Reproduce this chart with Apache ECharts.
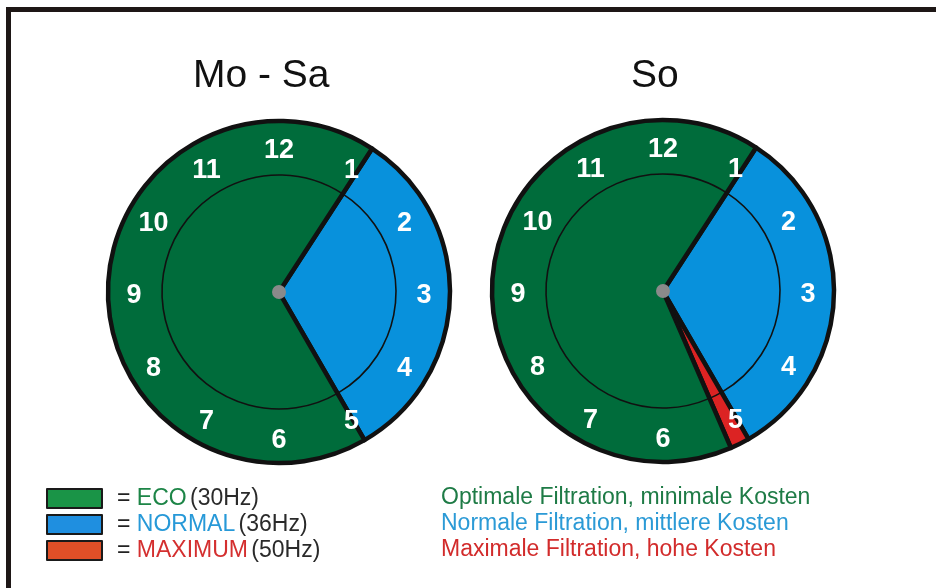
<!DOCTYPE html>
<html>
<head>
<meta charset="utf-8">
<script src="https://cdn.jsdelivr.net/npm/echarts@6/dist/echarts.min.js"></script>
<style>
html,body{margin:0;padding:0;background:#fff;}
#chart{width:936px;height:588px;}
</style>
</head>
<body>
<div id="chart"></div>
<script>
// ---- data (hours on a 12-hour clock) ----
const clockHours = ['12','1','2','3','4','5','6','7','8','9','10','11'];
const modes = ['ECO', 'NORMAL', 'MAXIMUM'];
const modeHz = ['(30Hz)', '(36Hz)', '(50Hz)'];
const modeDescriptions = [
  'Optimale Filtration, minimale Kosten',
  'Normale Filtration, mittlere Kosten',
  'Maximale Filtration, hohe Kosten'
];
const chartTitles = ['Mo - Sa', 'So'];
// segments start at this hour and run clockwise
const scheduleStartHour = 1.1;
const moSaModes = ['NORMAL', 'ECO'];
const moSaHours = [3.9, 8.1];
const soModes = ['NORMAL', 'MAXIMUM', 'ECO'];
const soHours = [3.9, 0.22, 7.88];

// ---- styles ----
const pieColors = { ECO: '#006c3b', NORMAL: '#0891dc', MAXIMUM: '#dc2323' };
const legendColors = { ECO: '#1a9447', NORMAL: '#1f8fe0', MAXIMUM: '#e04f27' };
const textColors = { ECO: '#1d8547', NORMAL: '#2799d8', MAXIMUM: '#d42f2f' };
const descColors = { ECO: '#1e7b46', NORMAL: '#2b9ad6', MAXIMUM: '#d22b2b' };
const FONT = '"Liberation Sans", Arial, sans-serif';

const clocks = [
  { center: [279, 292], modes: moSaModes, hours: moSaHours },
  { center: [663, 291], modes: soModes, hours: soHours }
];
const startAngle = 90 - scheduleStartHour * 30;

const series = [];
clocks.forEach(function (c) {
  const data = c.modes.map(function (m, i) {
    return { name: m, value: c.hours[i], itemStyle: { color: pieColors[m] } };
  });
  // main coloured clock face
  series.push({
    type: 'pie', center: c.center, radius: 171, startAngle: startAngle,
    clockwise: true, silent: true, label: { show: false }, labelLine: { show: false },
    itemStyle: { borderColor: '#111', borderWidth: 4.5 },
    emphasis: { disabled: true }, animation: false,
    data: data
  });
  // thin inner ring
  series.push({
    type: 'pie', center: c.center, radius: 117, startAngle: startAngle,
    clockwise: true, silent: true, label: { show: false }, labelLine: { show: false },
    itemStyle: { color: 'rgba(0,0,0,0)', borderColor: '#111', borderWidth: 1.6 },
    emphasis: { disabled: true }, animation: false,
    data: c.modes.map(function (m, i) { return { name: m + ' ', value: c.hours[i] }; })
  });
  // hour numbers
  series.push({
    type: 'pie', center: c.center, radius: [112, 172], startAngle: 105,
    clockwise: true, silent: true, labelLine: { show: false },
    itemStyle: { color: 'rgba(0,0,0,0)', borderWidth: 0 },
    label: { show: true, position: 'inside', rotate: 0, color: '#fff', offset: [0, 4],
      fontFamily: FONT, fontWeight: 'bold', fontSize: 27, formatter: '{b}' },
    emphasis: { disabled: true }, animation: false,
    data: clockHours.map(function (h) { return { name: h, value: 1 }; })
  });
  // centre dot
  series.push({
    type: 'pie', center: c.center, radius: 7, silent: true,
    label: { show: false }, labelLine: { show: false },
    itemStyle: { color: '#8a8a8a', borderWidth: 0 },
    emphasis: { disabled: true }, animation: false,
    data: [{ name: 'centre', value: 1 }]
  });
});

const legendRich = {
  eq: { color: '#222', fontSize: 23, fontFamily: FONT, lineHeight: 20, padding: [0, 0, 0, 10] },
  hz: { color: '#2a2a2a', fontSize: 23, fontFamily: FONT, lineHeight: 20 }
};
modes.forEach(function (m) {
  legendRich[m] = { color: textColors[m], fontSize: 23, fontFamily: FONT, lineHeight: 20 };
});

const descRich = {};
modes.forEach(function (m) {
  descRich[m] = { color: descColors[m], fontSize: 23, fontFamily: FONT, fontWeight: 'normal', lineHeight: 26 };
});

const option = {
  backgroundColor: '#ffffff',
  animation: false,
  title: [
    { text: chartTitles[0], left: 188, top: 52,
      textStyle: { fontFamily: FONT, fontWeight: 'normal', fontSize: 39, color: '#111' } },
    { text: chartTitles[1], left: 626, top: 52,
      textStyle: { fontFamily: FONT, fontWeight: 'normal', fontSize: 39, color: '#111' } },
    { text: modes.map(function (m, i) { return '{' + m + '|' + modeDescriptions[i] + '}'; }).join('\n'),
      left: 436, top: 480,
      textStyle: { rich: descRich, lineHeight: 26, fontWeight: 'normal' } }
  ],
  legend: {
    orient: 'vertical', left: 41, top: 482, itemWidth: 55, itemHeight: 19, itemGap: 3,
    icon: 'rect', selectedMode: false,
    data: modes.map(function (m) {
      return { name: m, itemStyle: { color: legendColors[m], borderColor: '#1a1a1a', borderWidth: 2 } };
    }),
    formatter: function (name) {
      const i = modes.indexOf(name);
      return '{eq|= }{' + name + '|' + name + '} {hz|' + modeHz[i] + '}';
    },
    textStyle: { rich: legendRich, lineHeight: 20 }
  },
  graphic: [
    { type: 'polyline', silent: true,
      shape: { points: [[8.5, 588], [8.5, 9.5], [936, 9.5]] },
      style: { stroke: '#1e1716', lineWidth: 5, fill: null } }
  ],
  series: series
};

const chart = echarts.init(document.getElementById('chart'), null, { renderer: 'canvas' });
chart.setOption(option);
</script>
</body>
</html>
